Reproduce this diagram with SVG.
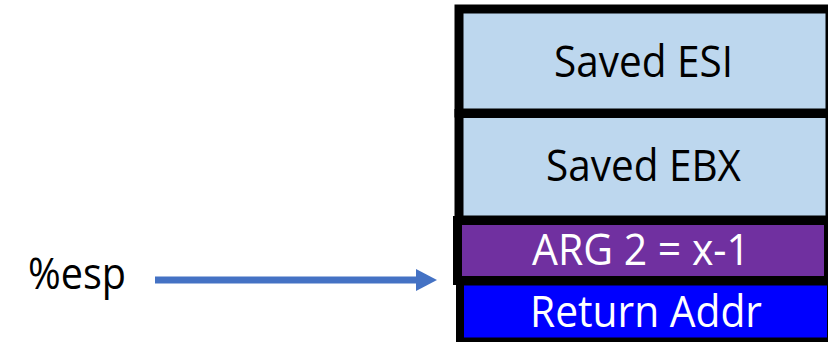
<svg xmlns="http://www.w3.org/2000/svg" width="828" height="342" viewBox="0 0 828 342">
  <style>
    .cell { stroke: #000000; }
    .lbl { font-family: "Open Sans", "Liberation Sans", sans-serif; font-size: 43px; text-anchor: middle; }
    .dark { fill: #000000; }
    .light { fill: #FFFFFF; }
  </style>
  <rect width="828" height="342" fill="#FFFFFF"/>

  <!-- stack slots, top to bottom -->
  <g id="saved-esi">
    <rect class="cell" x="459" y="9" width="371" height="104" fill="#BDD7EE" stroke-width="9"/>
    <text class="lbl dark" x="643.5" y="77" textLength="179" lengthAdjust="spacingAndGlyphs">Saved ESI</text>
  </g>
  <g id="saved-ebx">
    <rect class="cell" x="459" y="113.5" width="371" height="106.5" fill="#BDD7EE" stroke-width="9"/>
    <text class="lbl dark" x="643.5" y="181" textLength="195" lengthAdjust="spacingAndGlyphs">Saved EBX</text>
  </g>
  <g id="arg2">
    <rect class="cell" x="457.5" y="220.5" width="371" height="60" fill="#7030A0" stroke-width="9"/>
    <text class="lbl light" x="641" y="265" textLength="218" lengthAdjust="spacingAndGlyphs">ARG 2 = x-1</text>
  </g>
  <g id="return-addr">
    <rect class="cell" x="460" y="281.5" width="371" height="60" fill="#0000FF" stroke-width="8"/>
    <text class="lbl light" x="646" y="327" textLength="232" lengthAdjust="spacingAndGlyphs">Return Addr</text>
  </g>

  <!-- stack pointer label -->
  <g id="esp">
    <text class="lbl dark" x="28" y="289" style="text-anchor:start" textLength="98" lengthAdjust="spacingAndGlyphs">%esp</text>
  </g>

  <g id="connectors">
    <line x1="155" y1="280" x2="417" y2="280" stroke="#4472C4" stroke-width="7"/>
    <polygon points="416,269 437,280 416,291" fill="#4472C4"/>
  </g>
</svg>
